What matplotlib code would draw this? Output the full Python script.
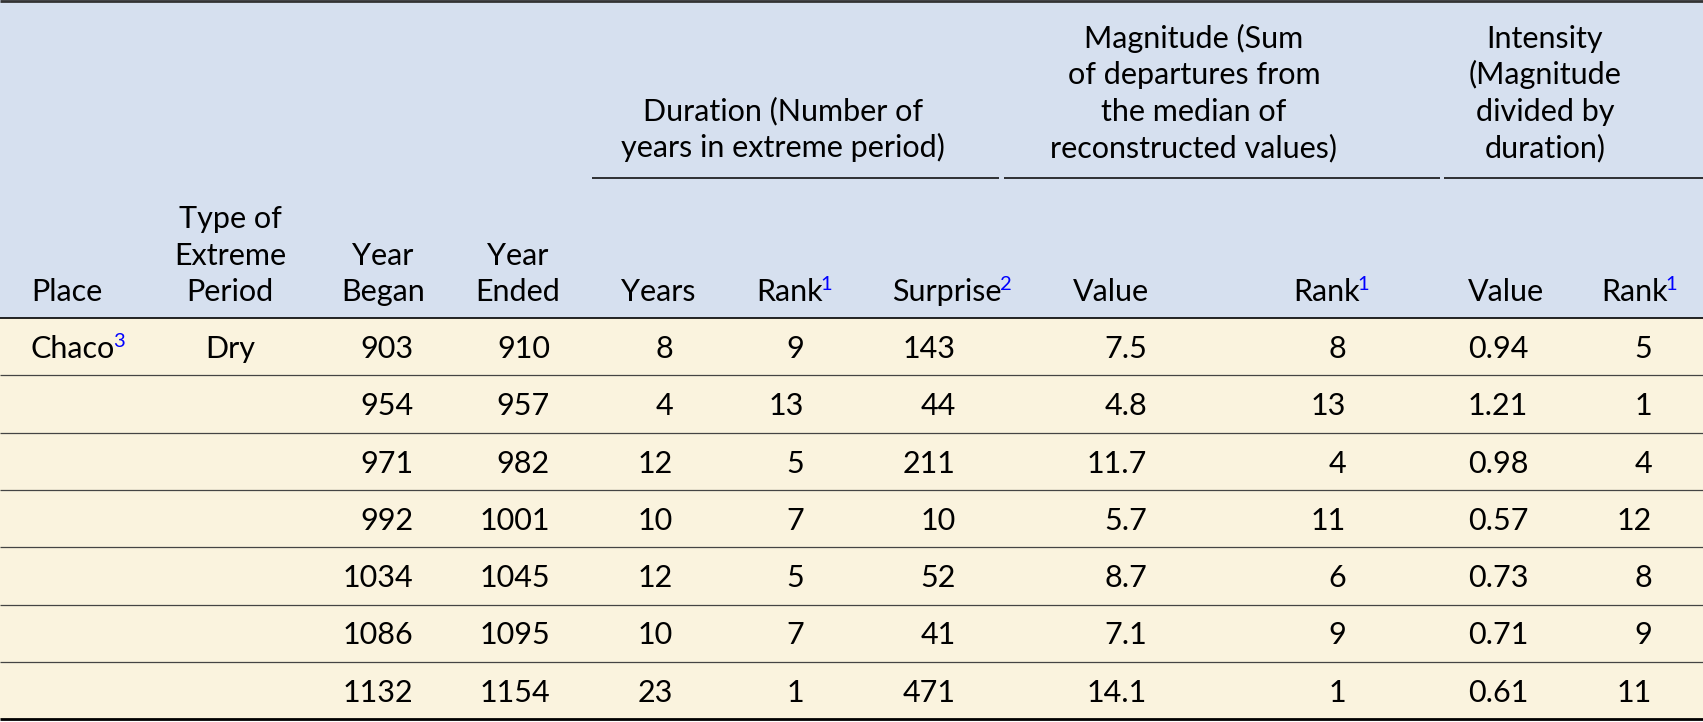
import matplotlib
matplotlib.use("Agg")
import matplotlib.pyplot as plt
from matplotlib.patches import Rectangle

# table values
places = ["Chaco", "", "", "", "", "", ""]
place_notes = ["3", "", "", "", "", "", ""]
period_types = ["Dry", "", "", "", "", "", ""]
year_began = [903, 954, 971, 992, 1034, 1086, 1132]
year_ended = [910, 957, 982, 1001, 1045, 1095, 1154]
dur_years = [8, 4, 12, 10, 12, 10, 23]
dur_rank = [9, 13, 5, 7, 5, 7, 1]
dur_surprise = [143, 44, 211, 10, 52, 41, 471]
mag_value = [7.5, 4.8, 11.7, 5.7, 8.7, 7.1, 14.1]
mag_rank = [8, 13, 4, 11, 6, 9, 1]
int_value = [0.94, 1.21, 0.98, 0.57, 0.73, 0.71, 0.61]
int_rank = [5, 1, 4, 12, 8, 9, 11]

group_headers = [
    ["Duration (Number of", "years in extreme period)"],
    ["Magnitude (Sum", "of departures from", "the median of", "reconstructed values)"],
    ["Intensity", "(Magnitude", "divided by", "duration)"],
]

# colours / fonts
HEAD_BG = "#d6e0ef"
BODY_BG = "#faf3de"
NOTE_BLUE = "#0000ff"
FONT = ["Lato", "DejaVu Sans"]
FS = 22
FS_SUP = 14.5

W, H = 1703, 722
HEAD_H = 318
ROW_H = 57.3
LINE_GAP = 36.4

fig = plt.figure(figsize=(W / 100, H / 100), dpi=100)
ax = fig.add_axes([0, 0, 1, 1])
ax.set_xlim(0, W)
ax.set_ylim(H, 0)
ax.axis("off")
renderer = fig.canvas.get_renderer()

n_rows = len(year_began)
body_bottom = HEAD_H + ROW_H * n_rows

ax.add_patch(Rectangle((0, 0), W, HEAD_H, color=HEAD_BG, lw=0))
ax.add_patch(Rectangle((0, HEAD_H), W, ROW_H * n_rows, color=BODY_BG, lw=0))


def measure(s, size):
    t = ax.text(0, 0, s, fontsize=size, family=FONT)
    w = t.get_window_extent(renderer).width
    t.remove()
    return w


def put(x, y, s, ha="center"):
    ax.text(x, y, s, fontsize=FS, family=FONT, ha=ha, va="baseline", color="black")


def put_sup(x, y, main, sup, ha="center"):
    wm = measure(main, FS)
    ws = measure(sup, FS_SUP)
    x0 = x - (wm + ws) / 2 if ha == "center" else x
    ax.text(x0, y, main, fontsize=FS, family=FONT, ha="left", va="baseline")
    ax.text(x0 + wm - 2, y - 11, sup, fontsize=FS_SUP, family=FONT,
            ha="left", va="baseline", color=NOTE_BLUE)


# group headers, bottom aligned above their rules
group_x = [783, 1194, 1545]
group_rule = [(592, 999), (1004, 1440), (1444, W)]
base_bottom = 157
for lines, gx, (x0, x1) in zip(group_headers, group_x, group_rule):
    for i, line in enumerate(reversed(lines)):
        put(gx, base_bottom - i * LINE_GAP, line)
    ax.plot([x0, x1], [178, 178], color="black", lw=1.1, solid_capstyle="butt")

# column headers
hb = 301
put(31, hb, "Place", ha="left")
for i, line in enumerate(reversed(["Type of", "Extreme", "Period"])):
    put(230, hb - i * LINE_GAP, line)
put(383, hb, "Began")
put(383, hb - LINE_GAP, "Year")
put(518, hb, "Ended")
put(518, hb - LINE_GAP, "Year")
put(658, hb, "Years")
put_sup(795, hb, "Rank", "1")
put_sup(953, hb, "Surprise", "2")
put(1111, hb, "Value")
put_sup(1332, hb, "Rank", "1")
put(1506, hb, "Value")
put_sup(1640, hb, "Rank", "1")

# body rows
for r in range(n_rows):
    top = HEAD_H + r * ROW_H
    yb = top + 40
    if places[r]:
        put_sup(31, yb, places[r], place_notes[r], ha="left")
    if period_types[r]:
        put(230, yb, period_types[r])
    put(413, yb, str(year_began[r]), ha="right")
    put(550, yb, str(year_ended[r]), ha="right")
    put(673, yb, str(dur_years[r]), ha="right")
    put(804, yb, str(dur_rank[r]), ha="right")
    put(956, yb, str(dur_surprise[r]), ha="right")
    put(1147, yb, f"{mag_value[r]:.1f}", ha="right")
    put(1346, yb, str(mag_rank[r]), ha="right")
    put(1468, yb, f"{int_value[r]:.2f}", ha="left")
    put(1652, yb, str(int_rank[r]), ha="right")
    if r > 0:
        ax.plot([0, W], [top, top], color="#444444", lw=0.9, solid_capstyle="butt")

# rules
ax.plot([0, W], [1.2, 1.2], color="#333333", lw=2.0, solid_capstyle="butt")
ax.plot([0, W], [HEAD_H, HEAD_H], color="black", lw=1.2, solid_capstyle="butt")
ax.plot([0, W], [body_bottom, body_bottom], color="black", lw=2.0, solid_capstyle="butt")

fig.savefig("out.png", dpi=100)
